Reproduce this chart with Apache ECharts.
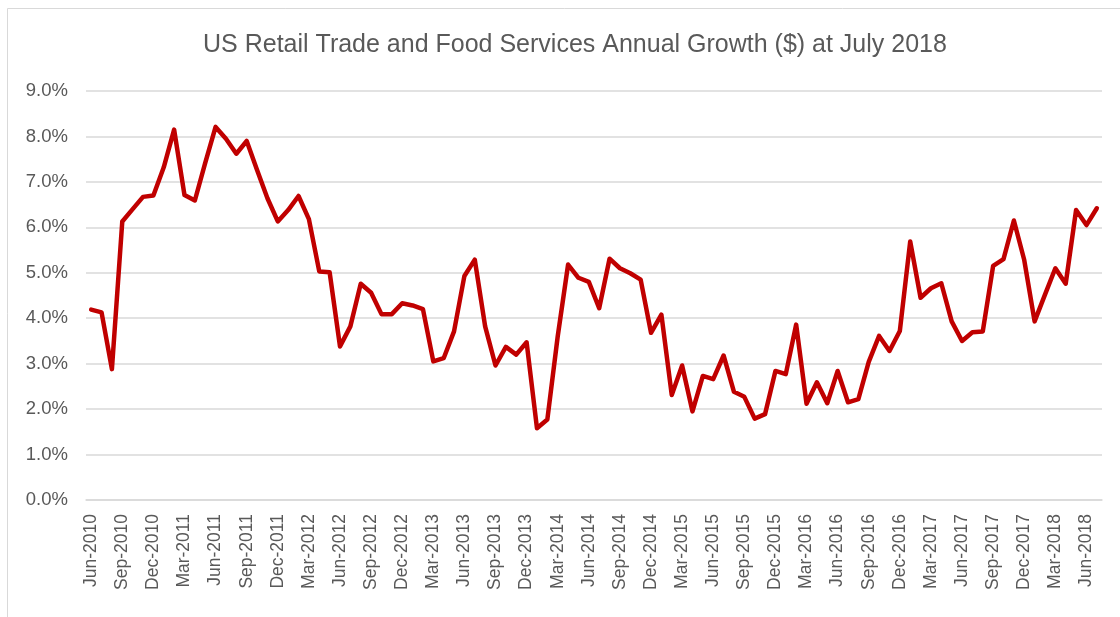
<!DOCTYPE html>
<html>
<head>
<meta charset="utf-8">
<script src="https://cdn.jsdelivr.net/npm/echarts@6/dist/echarts.min.js"></script>
<style>
html,body{margin:0;padding:0;background:#fff;}
#chart{width:1120px;height:617px;}
</style>
</head>
<body>
<div id="chart"></div>
<script>
const titleText = 'US Retail Trade and Food Services Annual Growth ($) at July 2018';
const monthNames = ['Jan','Feb','Mar','Apr','May','Jun','Jul','Aug','Sep','Oct','Nov','Dec'];
const startYear = 2010, startMonth = 5; // Jun-2010
const growth = [
  4.19, 4.13, 2.88, 6.13, 6.40, 6.67, 6.70, 7.32, 8.15, 6.71,
  6.59, 7.42, 8.21, 7.95, 7.62, 7.90, 7.26, 6.64, 6.13, 6.38,
  6.69, 6.18, 5.03, 5.01, 3.38, 3.82, 4.76, 4.56, 4.09, 4.09,
  4.33, 4.28, 4.20, 3.05, 3.12, 3.71, 4.93, 5.29, 3.82, 2.96,
  3.37, 3.20, 3.47, 1.58, 1.77, 3.60, 5.18, 4.89, 4.80, 4.22,
  5.31, 5.10, 4.99, 4.85, 3.68, 4.08, 2.31, 2.96, 1.95, 2.73,
  2.66, 3.18, 2.38, 2.27, 1.79, 1.89, 2.84, 2.77, 3.86, 2.12,
  2.59, 2.13, 2.84, 2.15, 2.22, 3.04, 3.61, 3.28, 3.72, 5.69,
  4.45, 4.66, 4.77, 3.93, 3.50, 3.69, 3.71, 5.15, 5.30, 6.15,
  5.28, 3.93, 4.52, 5.10, 4.76, 6.38, 6.05, 6.42
];
const categories = growth.map((_, i) => {
  const m = startMonth + i;
  return monthNames[m % 12] + '-' + (startYear + Math.floor(m / 12));
});

const chart = echarts.init(document.getElementById('chart'));
const font = '"Liberation Sans", Arial, Helvetica, sans-serif';
chart.setOption({
  animation: false,
  backgroundColor: '#fff',
  textStyle: {fontFamily: font},
  title: {
    text: titleText,
    left: 198,
    top: 28,
    textStyle: {fontFamily: font, fontSize: 25, fontWeight: 'normal', color: '#595959'}
  },
  graphic: [{
    type: 'rect',
    shape: {x: 7.5, y: 8.5, width: 1300, height: 800},
    style: {fill: 'none', stroke: '#d9d9d9', lineWidth: 1},
    silent: true, z: -1
  }],
  grid: {left: 86, right: 18, top: 91, bottom: 117, containLabel: false},
  xAxis: {
    type: 'category',
    data: categories,
    boundaryGap: true,
    axisLine: {show: true, lineStyle: {color: '#d9d9d9', width: 1.5}},
    axisTick: {show: false},
    axisLabel: {
      interval: 2,
      rotate: 90,
      margin: 14,
      fontSize: 17.5,
      color: '#595959',
      fontFamily: font
    },
    splitLine: {show: false}
  },
  yAxis: {
    type: 'value',
    min: 0, max: 9, interval: 1,
    axisLine: {show: false},
    axisTick: {show: false},
    axisLabel: {
      formatter: v => v.toFixed(1) + '%',
      fontSize: 18.5, color: '#595959', fontFamily: font, margin: 18
    },
    splitLine: {lineStyle: {color: '#d9d9d9', width: 1.5}}
  },
  series: [{
    type: 'line',
    data: growth,
    symbol: 'none',
    lineStyle: {color: '#c00000', width: 4.5, join: 'round', cap: 'round'},
    itemStyle: {color: '#c00000'}
  }]
});
</script>
</body>
</html>
